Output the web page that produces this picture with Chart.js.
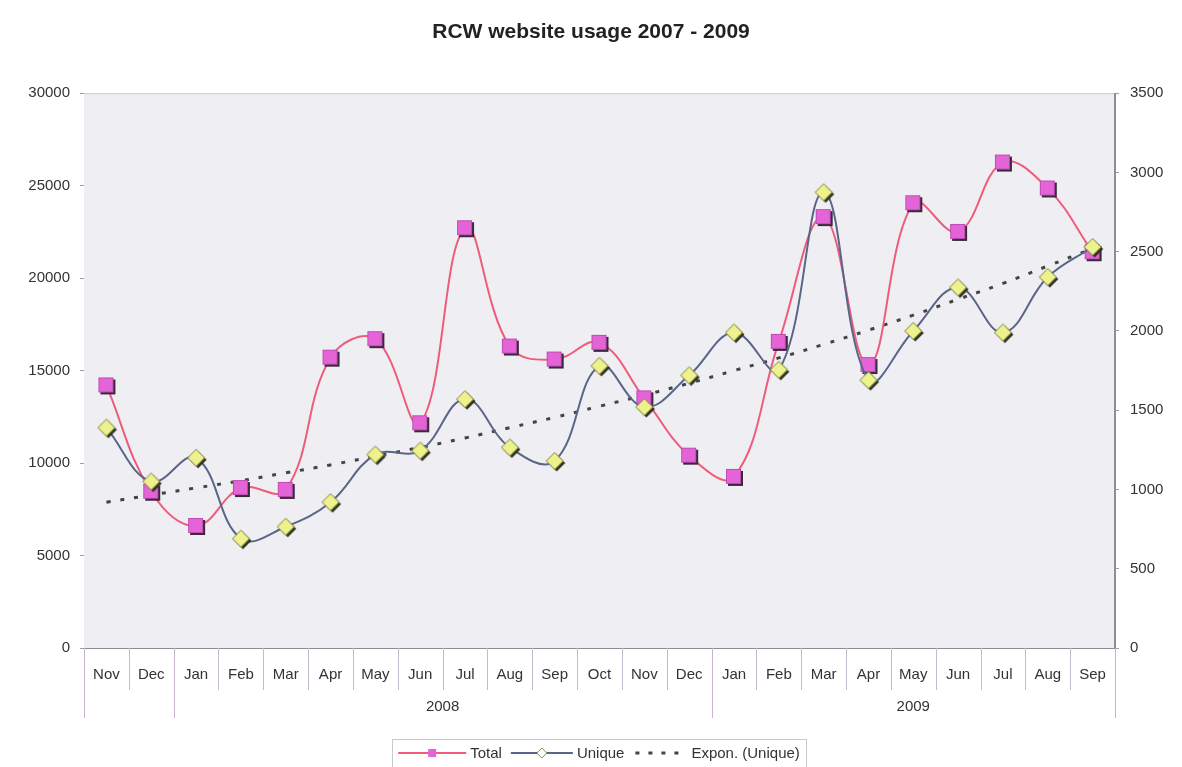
<!DOCTYPE html>
<html>
<head>
<meta charset="utf-8">
<title>RCW website usage 2007 - 2009</title>
<script src="https://cdn.jsdelivr.net/npm/chart.js@4.4.1/dist/chart.umd.min.js"></script>
<style>
  html, body { margin: 0; padding: 0; background: #ffffff; }
  #wrap { width: 1182px; height: 767px; position: relative; }
</style>
</head>
<body>
<div id="wrap"><canvas id="usageChart" width="1182" height="767"></canvas></div>
<script>
// --- DANE ---
const months = ['Nov', 'Dec', 'Jan', 'Feb', 'Mar', 'Apr', 'May', 'Jun', 'Jul', 'Aug', 'Sep', 'Oct',
                'Nov', 'Dec', 'Jan', 'Feb', 'Mar', 'Apr', 'May', 'Jun', 'Jul', 'Aug', 'Sep'];
const yearNames = ['', '2008', '2009'];
const yearSpans = [2, 12, 9]; // ile miesięcy w każdym roku
const totalVisits = [14200, 8450, 6600, 8650, 8550, 15700, 16700, 12150, 22700, 16300, 15600, 16500,
                     13500, 10400, 9250, 16550, 23300, 15300, 24050, 22500, 26250, 24850, 21400];
const uniqueVisits = [1390, 1050, 1200, 690, 765, 920, 1220, 1245, 1570, 1265, 1180, 1780,
                      1520, 1720, 1990, 1755, 2875, 1690, 2000, 2275, 1990, 2340, 2530];
const exponTrend = [920, 965, 1010, 1055, 1105, 1155, 1210, 1265, 1325, 1390, 1455, 1525,
                    1595, 1670, 1750, 1830, 1915, 2005, 2100, 2200, 2300, 2410, 2520];
const leftTicks = [0, 5000, 10000, 15000, 20000, 25000, 30000];
const rightTicks = [0, 500, 1000, 1500, 2000, 2500, 3000, 3500];

const FONT = '"Liberation Sans", Arial, sans-serif';
const TEXT = '#333333';

// --- MARKERY (kwadrat i romb z cieniem) ---
const makeSquare = () => {
  const c = document.createElement('canvas');
  c.width = 20; c.height = 20;
  const g = c.getContext('2d');
  g.fillStyle = '#3c2a3c';
  g.fillRect(4, 4, 15, 15);
  g.fillStyle = '#e464d8';
  g.fillRect(2, 2, 15, 15);
  g.strokeStyle = '#c04cb4';
  g.lineWidth = 1;
  g.strokeRect(2.5, 2.5, 14, 14);
  return c;
};

const makeDiamond = () => {
  const c = document.createElement('canvas');
  c.width = 24; c.height = 24;
  const g = c.getContext('2d');
  const dia = (cx, cy, r) => {
    g.beginPath();
    g.moveTo(cx - r, cy); g.lineTo(cx, cy - r); g.lineTo(cx + r, cy); g.lineTo(cx, cy + r);
    g.closePath();
  };
  g.fillStyle = '#2e3020';
  dia(14, 14, 8.5); g.fill();
  g.fillStyle = '#eef28c';
  dia(12, 12, 8.5); g.fill();
  g.strokeStyle = '#7c7e40';
  g.lineWidth = 1;
  g.stroke();
  return c;
};

const squareImg = makeSquare();
const diamondImg = makeDiamond();

// --- PLUGIN: tło, ramka, podziałki osi X, lata, legenda ---
const decorPlugin = {
  id: 'decor',
  beforeDatasetsDraw(chart) {
    const { ctx, chartArea: a } = chart;
    ctx.save();
    ctx.fillStyle = '#efeff3';
    ctx.fillRect(a.left, a.top, a.right - a.left, a.bottom - a.top);
    ctx.restore();
  },
  afterDraw(chart) {
    const { ctx, chartArea: a } = chart;
    const n = months.length;
    const w = (a.right - a.left) / n;
    ctx.save();

    // ramka obszaru wykresu
    ctx.lineWidth = 1;
    ctx.strokeStyle = '#c9c9cf';
    ctx.beginPath();
    ctx.moveTo(a.left, a.top + 0.5); ctx.lineTo(a.right, a.top + 0.5);
    ctx.stroke();
    ctx.strokeStyle = '#8a8f92';
    ctx.beginPath();
    ctx.moveTo(a.right - 0.5, a.top); ctx.lineTo(a.right - 0.5, a.bottom);
    ctx.stroke();

    // separatory miesięcy
    ctx.strokeStyle = '#c4bccc';
    for (let i = 0; i <= n; i++) {
      const x = Math.round(a.left + i * w) + 0.5;
      ctx.beginPath();
      ctx.moveTo(x, a.bottom); ctx.lineTo(x, a.bottom + 42);
      ctx.stroke();
    }

    // separatory lat + podpisy
    let start = 0;
    ctx.font = '15px ' + FONT;
    ctx.fillStyle = TEXT;
    ctx.textAlign = 'center';
    ctx.textBaseline = 'middle';
    const yearEdges = [0];
    yearSpans.forEach((span, k) => {
      const x0 = a.left + start * w;
      const x1 = a.left + (start + span) * w;
      if (yearNames[k]) ctx.fillText(yearNames[k], (x0 + x1) / 2, a.bottom + 59);
      start += span;
      yearEdges.push(start);
    });
    ctx.strokeStyle = '#c8b4cc';
    yearEdges.forEach(e => {
      const x = Math.round(a.left + e * w) + 0.5;
      ctx.beginPath();
      ctx.moveTo(x, a.bottom); ctx.lineTo(x, a.bottom + 70);
      ctx.stroke();
    });

    // legenda
    const ly = 753;
    ctx.font = '15px ' + FONT;
    ctx.textAlign = 'left';
    const items = [
      { label: 'Total', kind: 'total', sample: 68 },
      { label: 'Unique', kind: 'unique', sample: 62 },
      { label: 'Expon. (Unique)', kind: 'trend', sample: 54 }
    ];
    const gap = 9;
    let totalW = 0;
    items.forEach(it => { it.tw = ctx.measureText(it.label).width; totalW += it.sample + 4 + it.tw + gap; });
    totalW -= gap;
    const boxL = 599 - totalW / 2 - 6, boxR = 599 + totalW / 2 + 6;
    ctx.strokeStyle = '#c8c8d0';
    ctx.strokeRect(Math.round(boxL) + 0.5, 739.5, Math.round(boxR - boxL), 30);
    let x = boxL + 6;
    items.forEach(it => {
      if (it.kind === 'total') {
        ctx.strokeStyle = '#ee5c7c'; ctx.lineWidth = 2;
        ctx.beginPath(); ctx.moveTo(x, ly); ctx.lineTo(x + it.sample, ly); ctx.stroke();
        ctx.fillStyle = '#e464d8';
        ctx.fillRect(x + it.sample / 2 - 4, ly - 4, 8, 8);
      } else if (it.kind === 'unique') {
        ctx.strokeStyle = '#5a6688'; ctx.lineWidth = 2;
        ctx.beginPath(); ctx.moveTo(x, ly); ctx.lineTo(x + it.sample, ly); ctx.stroke();
        const cx = x + it.sample / 2;
        ctx.fillStyle = '#ffffff'; ctx.strokeStyle = '#8a8c40'; ctx.lineWidth = 1;
        ctx.beginPath();
        ctx.moveTo(cx - 5, ly); ctx.lineTo(cx, ly - 5); ctx.lineTo(cx + 5, ly); ctx.lineTo(cx, ly + 5);
        ctx.closePath(); ctx.fill(); ctx.stroke();
      } else {
        ctx.strokeStyle = '#444444'; ctx.lineWidth = 3;
        ctx.setLineDash([4, 9]);
        ctx.beginPath(); ctx.moveTo(x + 2, ly); ctx.lineTo(x + it.sample, ly); ctx.stroke();
        ctx.setLineDash([]);
      }
      x += it.sample + 4;
      ctx.fillStyle = TEXT;
      ctx.fillText(it.label, x, ly + 1);
      x += it.tw + gap;
    });
    ctx.restore();
  }
};

// --- WYKRES ---
const ctx = document.getElementById('usageChart').getContext('2d');
new Chart(ctx, {
  type: 'line',
  data: {
    labels: months,
    datasets: [{
      label: 'Expon. (Unique)',
      data: exponTrend,
      yAxisID: 'y1',
      borderColor: '#444444',
      borderWidth: 3,
      borderDash: [4, 10],
      pointRadius: 0,
      tension: 0.4,
      fill: false,
      order: 3
    }, {
      label: 'Unique',
      data: uniqueVisits,
      yAxisID: 'y1',
      borderColor: '#5a6688',
      borderWidth: 2,
      pointStyle: diamondImg,
      tension: 0.4,
      fill: false,
      order: 1
    }, {
      label: 'Total',
      data: totalVisits,
      yAxisID: 'y',
      borderColor: '#ee5c7c',
      borderWidth: 2,
      pointStyle: squareImg,
      tension: 0.4,
      fill: false,
      order: 2
    }]
  },
  options: {
    responsive: false,
    animation: false,
    events: [],
    layout: { padding: 0 },
    plugins: {
      legend: { display: false },
      tooltip: { enabled: false },
      title: {
        display: true,
        text: 'RCW website usage 2007 - 2009',
        color: '#222222',
        font: { family: FONT, size: 21, weight: 'bold' },
        padding: { top: 20, bottom: 48 }
      }
    },
    scales: {
      x: {
        offset: true,
        grid: { display: false, drawTicks: false },
        border: { display: true, color: '#8c8c92' },
        ticks: { color: TEXT, font: { family: FONT, size: 15 }, padding: 18, maxRotation: 0, autoSkip: false },
        afterFit: (scale) => { scale.height = 119; }
      },
      y: {
        position: 'left',
        min: 0, max: 30000,
        afterBuildTicks: (scale) => { scale.ticks = leftTicks.map(v => ({ value: v })); },
        grid: { drawOnChartArea: false, tickLength: 4, color: '#9aa0a0' },
        border: { display: true, color: '#7c8a88' },
        ticks: { color: TEXT, font: { family: FONT, size: 15 }, padding: 10, callback: v => String(v) },
        afterFit: (scale) => { scale.width = 84; }
      },
      y1: {
        position: 'right',
        min: 0, max: 3500,
        afterBuildTicks: (scale) => { scale.ticks = rightTicks.map(v => ({ value: v })); },
        grid: { drawOnChartArea: false, tickLength: 4, color: '#9aa0a0' },
        border: { display: true, color: '#8a8f92' },
        ticks: { color: TEXT, font: { family: FONT, size: 15 }, padding: 11, callback: v => String(v) },
        afterFit: (scale) => { scale.width = 67; }
      }
    }
  },
  plugins: [decorPlugin]
});
</script>
</body>
</html>
